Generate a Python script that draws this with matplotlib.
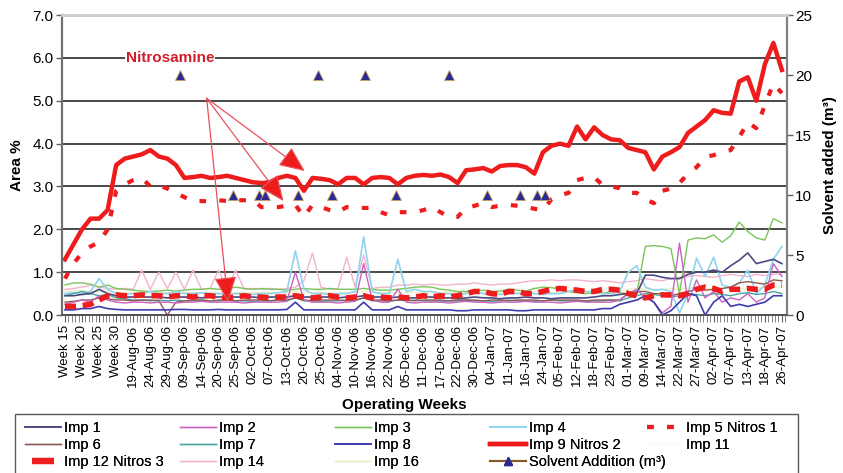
import matplotlib
matplotlib.use('Agg')
import matplotlib.pyplot as plt
from matplotlib.lines import Line2D
from matplotlib.patches import Rectangle
from matplotlib.ticker import MultipleLocator, FixedLocator
import numpy as np

plt.rcParams['font.family'] = ['Liberation Sans', 'DejaVu Sans']

week_labels = ["Week 15", "Week 20", "Week 25", "Week 30", "19-Aug-06", "24-Aug-06", "29-Aug-06",
               "09-Sep-06", "14-Sep-06", "20-Sep-06", "25-Sep-06", "02-Oct-06", "07-Oct-06",
               "13-Oct-06", "20-Oct-06", "25-Oct-06", "04-Nov-06", "10-Nov-06", "16-Nov-06",
               "22-Nov-06", "05-Dec-06", "11-Dec-06", "17-Dec-06", "22-Dec-06", "30-Dec-06",
               "04-Jan-07", "11-Jan-07", "16-Jan-07", "24-Jan-07", "05-Feb-07", "12-Feb-07",
               "18-Feb-07", "23-Feb-07", "01-Mar-07", "09-Mar-07", "14-Mar-07", "22-Mar-07",
               "27-Mar-07", "02-Apr-07", "07-Apr-07", "13-Apr-07", "18-Apr-07", "26-Apr-07"]

imp9 = [1.3, 1.65, 2.0, 2.25, 2.25, 2.45, 3.5, 3.65, 3.7, 3.75,
        3.85, 3.7, 3.65, 3.5, 3.2, 3.22, 3.25, 3.2, 3.22, 3.25,
        3.2, 3.15, 3.1, 3.08, 3.1, 3.2, 3.25, 3.2, 2.9, 3.2,
        3.18, 3.15, 3.05, 3.2, 3.2, 3.05, 3.2, 3.22, 3.2, 3.05,
        3.2, 3.25, 3.27, 3.25, 3.28, 3.22, 3.08, 3.38, 3.4, 3.43,
        3.35, 3.48, 3.5, 3.5, 3.45, 3.3, 3.8, 3.95, 4.0, 3.95,
        4.4, 4.1, 4.38, 4.2, 4.1, 4.08, 3.9, 3.85, 3.8, 3.4,
        3.7, 3.8, 3.92, 4.25, 4.4, 4.55, 4.78, 4.72, 4.7, 5.45,
        5.55, 5.0, 5.85, 6.35, 5.72]

imp5 = [0.85, 1.2, 1.45, 1.6, 1.7, 2.0, 2.9, 3.05, 3.15, 3.2,
        3.0, 3.03, 2.95, 2.85, 2.75, 2.66, 2.66, 2.65, 2.68, 2.66,
        2.68, 2.68, 2.68, 2.52, 2.52, 2.52, 2.55, 2.57, 2.29, 2.57,
        2.52, 2.45, 2.4, 2.52, 2.5, 2.5, 2.5, 2.4, 2.33, 2.4,
        2.4, 2.4, 2.45, 2.52, 2.4, 2.29, 2.29, 2.5, 2.55, 2.61,
        2.52, 2.55, 2.57, 2.55, 2.52, 2.48, 2.45, 2.7, 2.8, 2.85,
        3.15, 3.2, 3.22, 3.03, 3.0, 2.96, 2.85, 2.85, 2.7, 2.61,
        2.9, 2.95, 3.08, 3.3, 3.45, 3.69, 3.73, 3.8, 3.85, 4.15,
        4.5, 4.36, 4.9, 5.4, 5.18]

imp12 = [0.2, 0.2, 0.22, 0.25, 0.35, 0.45, 0.47, 0.45, 0.45, 0.47,
         0.45, 0.45, 0.42, 0.45, 0.45, 0.42, 0.45, 0.45, 0.42, 0.4,
         0.42, 0.45, 0.42, 0.42, 0.4, 0.42, 0.42, 0.45, 0.42, 0.4,
         0.42, 0.45, 0.42, 0.4, 0.42, 0.45, 0.4, 0.42, 0.4, 0.42,
         0.4, 0.42, 0.45, 0.42, 0.45, 0.42, 0.45, 0.5, 0.55, 0.55,
         0.5, 0.48, 0.55, 0.55, 0.5, 0.5, 0.55, 0.6, 0.62, 0.6,
         0.58, 0.55, 0.55, 0.6, 0.6, 0.58, 0.5, 0.45, 0.4, 0.45,
         0.47, 0.47, 0.45, 0.5, 0.6, 0.65, 0.62, 0.55, 0.6, 0.6,
         0.62, 0.6, 0.6, 0.7, 0.7]

imp3 = [0.7, 0.75, 0.75, 0.72, 0.65, 0.7, 0.62, 0.6, 0.58, 0.56,
        0.55, 0.56, 0.58, 0.56, 0.58, 0.6, 0.6, 0.62, 0.6, 0.62,
        0.65, 0.62, 0.6, 0.62, 0.6, 0.6, 0.58, 0.6, 0.62, 0.6,
        0.6, 0.62, 0.6, 0.6, 0.6, 0.62, 0.6, 0.58, 0.58, 0.6,
        0.62, 0.65, 0.66, 0.65, 0.6, 0.58, 0.55, 0.55, 0.56, 0.58,
        0.55, 0.56, 0.6, 0.58, 0.56, 0.62, 0.65, 0.64, 0.6, 0.55,
        0.52, 0.5, 0.52, 0.5, 0.55, 0.52, 0.5, 0.5, 1.6, 1.62,
        1.6, 1.55, 0.5, 1.75, 1.8, 1.78, 1.87, 1.7, 1.85, 2.17,
        1.95, 1.8, 1.75, 2.25, 2.15]

imp4 = [0.5, 0.52, 0.5, 0.55, 0.85, 0.6, 0.5, 0.48, 0.5, 0.5,
        0.55, 0.5, 0.5, 0.55, 0.5, 0.5, 0.52, 0.5, 0.5, 0.48,
        0.5, 0.5, 0.48, 0.5, 0.5, 0.52, 0.55, 1.5, 0.6, 0.5,
        0.5, 0.48, 0.5, 0.5, 0.55, 1.82, 0.55, 0.5, 0.5, 1.3,
        0.55, 0.6, 0.55, 0.55, 0.5, 0.5, 0.48, 0.5, 0.55, 0.5,
        0.5, 0.48, 0.5, 0.5, 0.52, 0.5, 0.48, 0.5, 0.5, 0.55,
        0.6, 0.55, 0.55, 0.5, 0.5, 0.55, 1.0, 1.15, 0.65, 0.58,
        0.6, 0.55, 0.05, 0.5, 1.33, 0.9, 1.35, 0.7, 0.65, 0.75,
        1.05, 0.5, 0.7, 1.3, 1.6]

imp14 = [0.6, 0.62, 0.65, 0.7, 0.65, 0.62, 0.6, 0.62, 0.6, 1.05,
         0.6, 1.0, 0.62, 1.0, 0.6, 1.05, 0.6, 0.62, 1.05, 0.6,
         1.05, 0.6, 0.62, 0.6, 0.62, 0.6, 0.62, 0.65, 0.8, 1.45,
         0.65, 0.6, 0.62, 1.35, 0.65, 1.4, 0.62, 0.65, 0.65, 0.7,
         0.7, 0.72, 0.7, 0.72, 0.7, 0.7, 0.72, 0.72, 0.75, 0.72,
         0.7, 0.72, 0.72, 0.75, 0.78, 0.8, 0.8, 0.82, 0.8, 0.82,
         0.82, 0.8, 0.78, 0.8, 0.78, 0.75, 0.78, 0.8, 0.85, 0.82,
         0.8, 0.85, 0.88, 0.9, 0.92, 0.9, 0.88, 0.92, 0.95, 0.92,
         0.9, 0.95, 0.92, 0.95, 0.95]

imp2 = [0.25, 0.3, 0.35, 0.3, 0.45, 0.35, 0.3, 0.28, 0.3, 0.3,
        0.28, 0.3, 0.3, 0.28, 0.3, 0.3, 0.32, 0.3, 0.3, 0.3,
        0.3, 0.28, 0.3, 0.3, 0.3, 0.3, 0.32, 1.0, 0.35, 0.3,
        0.3, 0.3, 0.28, 0.3, 0.32, 1.2, 0.35, 0.3, 0.3, 0.6,
        0.3, 0.28, 0.3, 0.3, 0.3, 0.28, 0.3, 0.32, 0.3, 0.3,
        0.28, 0.3, 0.3, 0.3, 0.32, 0.3, 0.3, 0.3, 0.28, 0.3,
        0.32, 0.3, 0.3, 0.3, 0.3, 0.35, 0.5, 0.6, 0.4, 0.3,
        0.05, 0.2, 1.68, 0.3, 0.82, 0.4, 0.55, 0.3, 0.4, 0.35,
        0.5, 0.3, 0.4, 1.2, 0.9]

imp6 = [0.3, 0.32, 0.35, 0.35, 0.4, 0.38, 0.35, 0.35, 0.33, 0.35,
        0.35, 0.33, 0.0, 0.3, 0.33, 0.35, 0.35, 0.33, 0.35, 0.35,
        0.33, 0.35, 0.35, 0.35, 0.33, 0.35, 0.35, 0.4, 0.35, 0.33,
        0.35, 0.35, 0.35, 0.33, 0.35, 0.4, 0.35, 0.35, 0.33, 0.35,
        0.35, 0.33, 0.35, 0.35, 0.35, 0.33, 0.35, 0.35, 0.35, 0.33,
        0.35, 0.35, 0.33, 0.35, 0.35, 0.35, 0.33, 0.35, 0.35, 0.35,
        0.35, 0.33, 0.35, 0.35, 0.35, 0.35, 0.5, 0.55, 0.55, 0.5,
        0.5, 0.45, 0.5, 0.55, 0.6, 0.58, 0.6, 0.62, 0.65, 0.75,
        0.78, 0.75, 0.72, 0.82, 0.8]

imp7 = [0.45, 0.5, 0.55, 0.5, 0.45, 0.48, 0.4, 0.38, 0.35, 0.35,
        0.33, 0.35, 0.33, 0.35, 0.33, 0.33, 0.35, 0.33, 0.33, 0.35,
        0.33, 0.33, 0.32, 0.33, 0.33, 0.35, 0.33, 0.4, 0.33, 0.33,
        0.32, 0.33, 0.33, 0.35, 0.33, 0.4, 0.33, 0.33, 0.32, 0.35,
        0.33, 0.35, 0.33, 0.33, 0.32, 0.33, 0.33, 0.35, 0.33, 0.33,
        0.32, 0.33, 0.35, 0.33, 0.33, 0.32, 0.33, 0.35, 0.33, 0.33,
        0.33, 0.32, 0.33, 0.33, 0.35, 0.33, 0.4, 0.45, 0.5, 0.48,
        0.45, 0.42, 0.45, 0.5, 0.48, 0.45, 0.5, 0.48, 0.45, 0.5,
        0.52, 0.48, 0.5, 0.55, 0.5]

imp8 = [0.12, 0.12, 0.15, 0.15, 0.2, 0.15, 0.13, 0.12, 0.12, 0.12,
        0.12, 0.12, 0.12, 0.13, 0.13, 0.12, 0.12, 0.12, 0.13, 0.12,
        0.12, 0.12, 0.12, 0.12, 0.12, 0.12, 0.13, 0.3, 0.12, 0.12,
        0.12, 0.12, 0.12, 0.12, 0.12, 0.3, 0.12, 0.12, 0.12, 0.2,
        0.12, 0.12, 0.12, 0.12, 0.12, 0.12, 0.1, 0.1, 0.12, 0.12,
        0.12, 0.12, 0.12, 0.1, 0.1, 0.12, 0.12, 0.12, 0.12, 0.12,
        0.12, 0.12, 0.12, 0.15, 0.15, 0.25, 0.3, 0.35, 0.45, 0.3,
        0.0, 0.1, 0.3, 0.5, 0.45, 0.0, 0.3, 0.45, 0.2, 0.25,
        0.2, 0.25, 0.3, 0.45, 0.45]

imp1 = [0.45, 0.45, 0.48, 0.5, 0.6, 0.5, 0.45, 0.42, 0.42, 0.42,
        0.42, 0.42, 0.4, 0.42, 0.42, 0.42, 0.4, 0.42, 0.42, 0.42,
        0.42, 0.42, 0.42, 0.4, 0.42, 0.42, 0.42, 0.45, 0.42, 0.42,
        0.42, 0.42, 0.4, 0.42, 0.42, 0.45, 0.42, 0.42, 0.4, 0.42,
        0.4, 0.4, 0.42, 0.42, 0.4, 0.4, 0.38, 0.4, 0.42, 0.4,
        0.4, 0.38, 0.4, 0.4, 0.42, 0.4, 0.4, 0.38, 0.4, 0.4,
        0.4, 0.4, 0.42, 0.45, 0.45, 0.48, 0.5, 0.5, 0.93, 0.93,
        0.88, 0.85, 0.85, 0.95, 1.0, 1.0, 1.05, 1.0, 1.15, 1.28,
        1.45, 1.2, 1.25, 1.3, 1.2]

imp16 = [0.55, 0.56, 0.58, 0.55, 0.54, 0.55, 0.53, 0.52, 0.52, 0.53,
         0.52, 0.53, 0.52, 0.52, 0.53, 0.52, 0.52, 0.53, 0.52, 0.52,
         0.52, 0.53, 0.52, 0.52, 0.53, 0.52, 0.52, 0.55, 0.52, 0.52,
         0.53, 0.52, 0.52, 0.52, 0.53, 0.55, 0.52, 0.52, 0.53, 0.52,
         0.52, 0.53, 0.52, 0.52, 0.52, 0.53, 0.52, 0.52, 0.53, 0.52,
         0.52, 0.52, 0.53, 0.52, 0.52, 0.53, 0.52, 0.52, 0.52, 0.53,
         0.52, 0.52, 0.53, 0.52, 0.52, 0.55, 0.6, 0.62, 0.6, 0.58,
         0.6, 0.62, 0.6, 0.62, 0.65, 0.62, 0.6, 0.62, 0.65, 0.62,
         0.6, 0.62, 0.65, 0.66, 0.65]

imp11 = [0.65, 0.66, 0.68, 0.65, 0.64, 0.65, 0.63, 0.62, 0.62, 0.63,
         0.62, 0.63, 0.62, 0.62, 0.63, 0.62, 0.62, 0.63, 0.62, 0.62,
         0.62, 0.63, 0.62, 0.62, 0.63, 0.62, 0.62, 0.65, 0.62, 0.62,
         0.63, 0.62, 0.62, 0.62, 0.63, 0.65, 0.62, 0.62, 0.63, 0.62,
         0.62, 0.63, 0.62, 0.62, 0.62, 0.63, 0.62, 0.62, 0.63, 0.62,
         0.62, 0.62, 0.63, 0.62, 0.62, 0.63, 0.62, 0.62, 0.62, 0.63,
         0.62, 0.62, 0.63, 0.62, 0.62, 0.65, 0.7, 0.72, 0.7, 0.68,
         0.7, 0.72, 0.7, 0.72, 0.75, 0.72, 0.7, 0.72, 0.75, 0.72,
         0.7, 0.72, 0.75, 0.76, 0.75]

solvent_pos = [13.5, 19.7, 22.7, 23.4, 27.3, 29.6, 31.3, 35.2, 38.8, 45.0, 49.4, 53.3, 55.3, 56.2]
solvent_m3 = [20, 10, 10, 10, 10, 20, 10, 20, 10, 20, 10, 10, 10, 10]

n = len(imp9)
x = np.arange(n)

fig = plt.figure(figsize=(8.43, 4.73), dpi=100)
ax = fig.add_axes([0.0735, 0.334, 0.8601, 0.634])
ax2 = ax.twinx()

RED = '#ee1c1c'
h = {}
h['Imp 16'], = ax.plot(x, imp16, color='#eeeec4', lw=1.0)
h['Imp 11'], = ax.plot(x, imp11, color='#fbfbf3', lw=1.0)
h['Imp 14'], = ax.plot(x, imp14, color='#f2b3cd', lw=1.0)
h['Imp 3'], = ax.plot(x, imp3, color='#7cc45c', lw=1.0)
h['Imp 4'], = ax.plot(x, imp4, color='#8fd3ef', lw=1.2)
h['Imp 7'], = ax.plot(x, imp7, color='#4aa3a3', lw=1.0)
h['Imp 6'], = ax.plot(x, imp6, color='#8c5a52', lw=1.0)
h['Imp 1'], = ax.plot(x, imp1, color='#4a4a80', lw=1.2)
h['Imp 2'], = ax.plot(x, imp2, color='#c862c0', lw=1.0)
h['Imp 8'], = ax.plot(x, imp8, color='#3c3cb0', lw=1.2)
ax.plot(x, imp12, color=RED, lw=4.0, dashes=(2.0, 1.2))
h['Imp 12 Nitros 3'] = Line2D([], [], color=RED, linestyle='none', marker='_',
                              markersize=16, markeredgewidth=4.5)
h['Imp 5 Nitros 1'], = ax.plot(x, imp5, color=RED, lw=3.0, dashes=(1.6, 3.2))
h['Imp 9 Nitros 2'], = ax.plot(x, imp9, color=RED, lw=3.2)

ax2.plot(solvent_pos, solvent_m3, linestyle='none', marker='^', markersize=7,
         markerfacecolor='#2a2a90', markeredgecolor='#c8a060', markeredgewidth=0.6)
h['Solvent Addition (m³)'] = Line2D([], [], color='#8b5a2b', lw=1.5, marker='^', markersize=6,
                                    markerfacecolor='#2a2a90', markeredgecolor='#2a2a90')

# axes styling
ax.set_xlim(-0.35, 84.6)
ax.set_ylim(0, 7)
ax2.set_ylim(0, 25)
ax.set_yticks(np.arange(0, 8, 1))
ax.set_yticklabels([f"{v:.1f}" for v in np.arange(0, 8, 1)], fontsize=11)
ax2.set_yticks(np.arange(0, 30, 5))
ax2.set_yticklabels([str(v) for v in range(0, 30, 5)], fontsize=11)

ax.xaxis.set_major_locator(FixedLocator(np.arange(0, 2 * len(week_labels), 2)))
ax.set_xticklabels(week_labels, rotation=90, fontsize=9.5)
ax.xaxis.set_minor_locator(MultipleLocator(0.4))
ax.tick_params(axis='x', which='major', length=5, width=0.8, color='#606060', pad=2)
ax.tick_params(axis='x', which='minor', length=5, width=0.6, color='#707070')
ax.tick_params(axis='y', length=4, width=1.0, color='#606060', pad=2)
ax2.tick_params(axis='y', length=4, width=1.0, color='#606060', pad=2)

ax.grid(axis='y', color='#3a3a3a', lw=1.3)
gl = ax.get_ygridlines()
gl[0].set_visible(False)
gl[-1].set_visible(False)
ax.set_axisbelow(True)

for a in (ax, ax2):
    a.spines['top'].set_color('#cfcfcf')
    a.spines['top'].set_linewidth(2.0)
    a.spines['left'].set_color('#707070')
    a.spines['left'].set_linewidth(1.5)
    a.spines['right'].set_color('#808080')
    a.spines['right'].set_linewidth(1.5)
    a.spines['bottom'].set_color('#505050')
    a.spines['bottom'].set_linewidth(1.2)

ax.set_ylabel('Area %', fontsize=11, fontweight='bold', labelpad=6)
ax2.set_ylabel('Solvent added (m³)', fontsize=11, fontweight='bold', labelpad=8)
fig.text(0.48, 0.144, 'Operating Weeks', fontsize=11, fontweight='bold', ha='center', va='center')

# annotation
ax.text(12.3, 6.0, 'Nitrosamine', color='#d0202c', fontsize=11, fontweight='bold',
        ha='center', va='center', bbox=dict(facecolor='white', edgecolor='none', pad=0.5), zorder=5)
origin = (16.6, 5.06)
for tgt in [(19.1, 0.3), (25.6, 2.66), (28.1, 3.36)]:
    ax.annotate('', xy=tgt, xytext=origin,
                arrowprops=dict(arrowstyle='-|>,head_length=0.8,head_width=0.35', lw=0.9,
                                mutation_scale=20, color='#e8505a', fc=RED,
                                shrinkA=0, shrinkB=0), zorder=6)

# legend (5 columns placed manually)
columns = [['Imp 1', 'Imp 6', 'Imp 12 Nitros 3'],
           ['Imp 2', 'Imp 7', 'Imp 14'],
           ['Imp 3', 'Imp 8', 'Imp 16'],
           ['Imp 4', 'Imp 9 Nitros 2', 'Solvent Addition (m³)'],
           ['Imp 5 Nitros 1', 'Imp 11']]
col_x = [25, 180, 335, 490, 647]
for labels, cx in zip(columns, col_x):
    leg = fig.legend([h[l] for l in labels], labels, loc='upper left',
                     bbox_to_anchor=(cx / 843, 1 - 421 / 473), frameon=False,
                     fontsize=10.5, handlelength=2.5, handletextpad=0.2,
                     labelspacing=0.22, borderpad=0, borderaxespad=0)
    fig.add_artist(leg)
fig.patches.append(Rectangle((15 / 843, -0.05), 783 / 843, 0.05 + (473 - 414) / 473,
                             transform=fig.transFigure, fill=False, edgecolor='#5a5a5a', lw=1.0))

fig.savefig('out.png', dpi=100, facecolor='white')
